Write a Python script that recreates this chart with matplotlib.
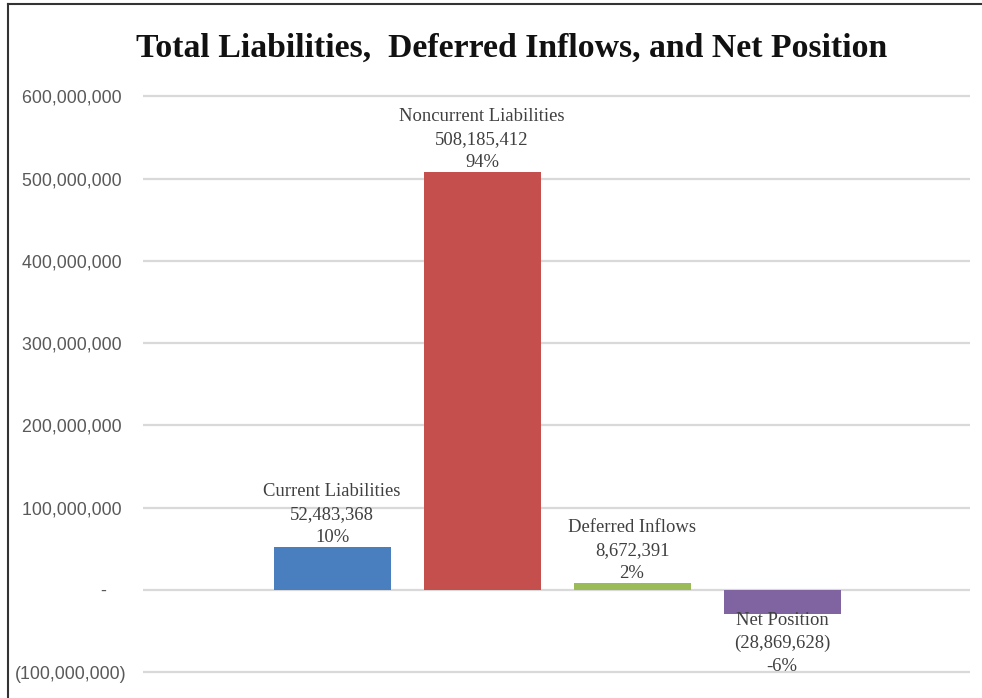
import matplotlib
matplotlib.use("Agg")
import matplotlib.pyplot as plt
from matplotlib.lines import Line2D
from matplotlib import font_manager

categories = ["Current Liabilities", "Noncurrent Liabilities", "Deferred Inflows", "Net Position"]
values = [52483368, 508185412, 8672391, -28869628]
value_labels = ["52,483,368", "508,185,412", "8,672,391", "(28,869,628)"]
pct_labels = ["10%", "94%", "2%", "-6%"]
colors = ["#4a7fbf", "#c44f4d", "#9bbb59", "#8064a2"]
yticks = [-100000000, 0, 100000000, 200000000, 300000000, 400000000, 500000000, 600000000]
ytick_labels = ["(100,000,000)", "-    ", "100,000,000 ", "200,000,000 ", "300,000,000 ",
                "400,000,000 ", "500,000,000 ", "600,000,000 "]
title = "Total Liabilities,  Deferred Inflows, and Net Position"

names = {f.name for f in font_manager.fontManager.ttflist}
narrow = "Liberation Sans Narrow" if "Liberation Sans Narrow" in names else "Liberation Sans"
serif = "Liberation Serif"

W, H = 982, 698
fig = plt.figure(figsize=(W / 100, H / 100), dpi=100)

# axes placement in pixels
px_left, px_right = 143, 970
px_top, px_bottom = 88, 680.5
ax = fig.add_axes([px_left / W, 1 - px_bottom / H, (px_right - px_left) / W, (px_bottom - px_top) / H])
ax.set_ylim(-110000000, 610000000)
ax.set_xlim(-1.26, 4.253)

x = list(range(len(categories)))
ax.bar(x, values, width=0.78, color=colors, zorder=3)

ax.set_yticks(yticks)
ax.set_yticklabels(ytick_labels, fontfamily=narrow, fontsize=12.8, color="#595959")
ax.tick_params(axis="y", length=0, pad=12)
ax.set_xticks([])
ax.grid(axis="y", color="#d9d9d9", linewidth=1.6, zorder=0)
for s in ax.spines.values():
    s.set_visible(False)

for xi, v, name, vl, pl in zip(x, values, categories, value_labels, pct_labels):
    txt = f"{name}\n{vl}\n{pl}"
    if v >= 0:
        ax.annotate(txt, (xi, v), xytext=(0, 0.5), textcoords="offset points",
                    ha="center", va="bottom", fontfamily=serif, fontsize=13.4,
                    color="#404040", linespacing=1.45, zorder=4)
    else:
        ax.annotate(txt, (xi, v), xytext=(0, 1.5), textcoords="offset points",
                    ha="center", va="top", fontfamily=serif, fontsize=13.4,
                    color="#404040", linespacing=1.45, zorder=4)

fig.text(512 / W, 1 - 48 / H, title, ha="center", va="center",
         fontfamily=serif, fontweight="bold", fontsize=24.3, color="#111111")

# outer border (left and top)
fig.add_artist(Line2D([8 / W, 8 / W], [0, 1 - 4 / H], color="#333333", linewidth=1.5))
fig.add_artist(Line2D([8 / W, 1], [1 - 4 / H, 1 - 4 / H], color="#333333", linewidth=1.5))

fig.savefig("out.png", dpi=100)
